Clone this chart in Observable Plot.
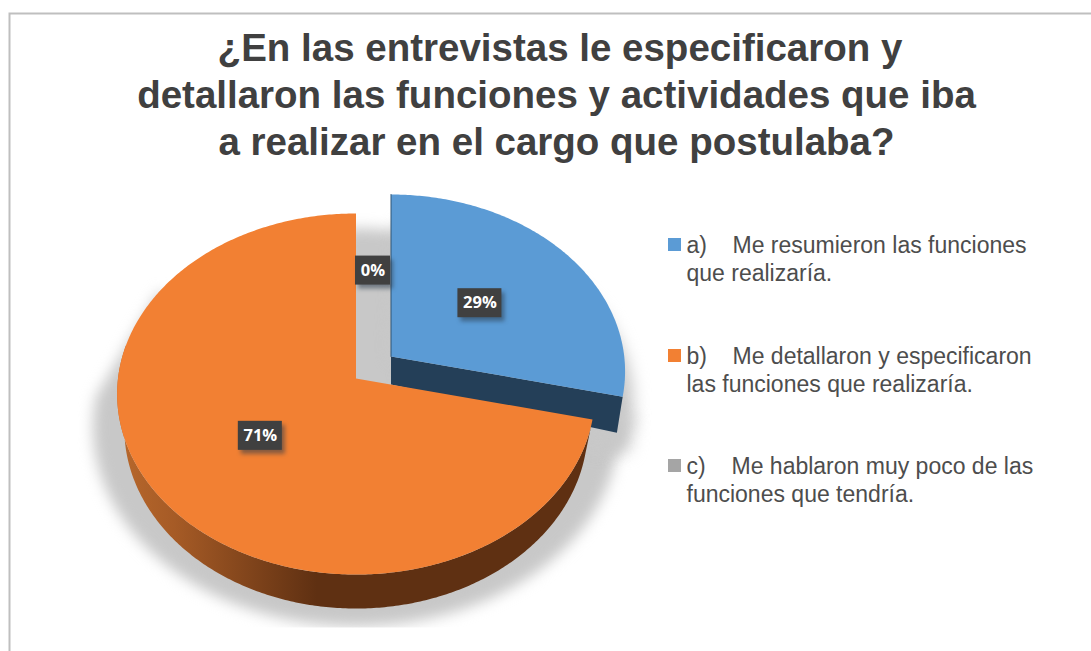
<!DOCTYPE html>
<html><head><meta charset="utf-8">
<script src="https://cdn.jsdelivr.net/npm/d3@7"></script>
<script src="https://cdn.jsdelivr.net/npm/@observablehq/plot@0.6"></script>
<style>html,body{margin:0;padding:0;background:#fff;overflow:hidden}svg{display:block}</style>
</head><body><div id="chart"></div>
<script>
// --- data ---
const titleLines = ["¿En las entrevistas le especificaron y","detallaron las funciones y actividades que iba","a realizar en el cargo que postulaba?"];
const categories = ["a)","b)","c)"];
const values = [28.6,71.4,0];
const percentLabels = ["29%","71%","0%"];
const legendFirst = ["Me resumieron las funciones","Me detallaron y especificaron","Me hablaron muy poco de las"];
const legendSecond = ["que realizaría.","las funciones que realizaría.","funciones que tendría."];
const topColors = ["#5b9bd5","#f28033","#a5a5a5"];

// --- layout ---
const W=1091,H=651, cx=355.5, cy=378, B=238, A=179.2, k=0.0859;
const X=px=>(px-cx)/B, Y=py=>(py-cy)/A;
const explode=[[35,-22],[0,0],[17,-22]];
const radius=[0.98,1,1];
const arcs=d3.pie().sort(null)(values);
const proj=(t,r,ox=0,oy=0)=>{const u=r*Math.sin(t),v=-r*Math.cos(t),w=1-k*v;return {x:u/w+ox/B,y:v/w+oy/A,u,v};};
const arcPts=(t0,t1,r,ox,oy)=>{const n=Math.max(2,Math.ceil(Math.abs(t1-t0)*90));return d3.range(n+1).map(i=>proj(t0+(t1-t0)*i/n,r,ox,oy));};
const wedge=(i)=>{const a=arcs[i],[ox,oy]=explode[i];return [proj(0,0,ox,oy),...arcPts(a.startAngle,a.endAngle,radius[i],ox,oy)];};
const [bx,by]=explode[0];
const blueEnd=proj(arcs[0].endAngle,radius[0],bx,by);
const blueApex=proj(0,0,bx,by);
const blueWall=[blueApex,blueEnd,
  {x:blueApex.x+(blueEnd.x-blueApex.x)*0.975,y:blueEnd.y+36/A},
  {x:blueApex.x,y:blueApex.y+28/A}];
const oStart=arcs[1].startAngle;
const rimTop=arcPts(oStart,Math.PI*1.56,1,0,0);
const rimBot=rimTop.map(p=>({x:p.x*0.97,y:p.y+34/A})).reverse();
const orangeRim=[...rimTop,...rimBot];
const origin=proj(0,0,0,0);
const shadowMain=[proj(0,0,0,40),...arcPts(oStart-0.4,Math.PI*1.52,1.1,0,30),proj(Math.PI*1.67,1,0,0)];
const shadowGap=[proj(0,0,-30,70),...arcPts(-0.05,oStart,1.1,0,30)];
const shadowBlue=[blueApex,...arcPts(arcs[0].startAngle,arcs[0].endAngle,radius[0],bx+8,by+30)];
const shadowWall=blueWall.map(p=>({x:p.x+12/B,y:p.y+20/A}));

const labelCentres=arcs.map((a,i)=>proj((a.startAngle+a.endAngle)/2,0.5*radius[i],explode[i][0],explode[i][1]));
const labelRows=percentLabels.map((t,i)=>({t,...labelCentres[i],w:i===2?17.5:22,h:14.5}));
const legendTop=[245,356,466], legendX=[686,686,686], legendBody=[732,732,731], titleX=[559.5,556,556];
const sans="'Liberation Sans',Arial,sans-serif";

const defs=()=>{
  const s=d3.create("svg:defs");
  const g=s.append("linearGradient").attr("id","rimGrad").attr("x1","0").attr("x2","1").attr("y1","0").attr("y2","0");
  [[0,"#b8682c"],[0.12,"#a65b26"],[0.42,"#5f3012"],[1,"#5f3012"]].forEach(([o,c])=>g.append("stop").attr("offset",o).attr("stop-color",c));
  return s.node();
};
const shape=(pts,opts)=>Plot.line(pts,{x:"x",y:"y",stroke:"none",...opts});

const plot=Plot.plot({
  width:W,height:H,margin:0,
  x:{domain:[X(0),X(W)],range:[0,W],axis:null},
  y:{domain:[Y(0),Y(H)],range:[0,H],axis:null},
  style:{background:"#fff",overflow:"visible"},
  marks:[
    defs,
    Plot.rect([{a:X(9.5),b:X(W+20),c:Y(13.5),d:Y(H+20)}],{x1:"a",x2:"b",y1:"c",y2:"d",fill:"none",stroke:"#bfbfbf",strokeWidth:2}),
    shape(shadowMain,{fill:"#c8c8c8",imageFilter:"blur(7px)"}),
    shape(shadowGap,{fill:"#c8c8c8",imageFilter:"blur(7px)"}),
    shape(shadowBlue,{fill:"#c8c8c8",imageFilter:"blur(8px)"}),
    shape(shadowWall,{fill:"#c8c8c8",imageFilter:"blur(8px)"}),
    Plot.rect([{a:X(60),b:X(700),c:Y(627.5),d:Y(645)}],{x1:"a",x2:"b",y1:"c",y2:"d",fill:"#fff"}),
    shape(blueWall,{fill:"#243f58"}),
    shape(orangeRim,{fill:"url(#rimGrad)"}),
    shape(wedge(0),{fill:topColors[0]}),
    shape([proj(0,radius[0],bx,by),blueApex],{stroke:"#2f5475",strokeWidth:1}),
    shape(wedge(1),{fill:topColors[1]}),
    Plot.rect(labelRows,{x1:d=>d.x-d.w/B,x2:d=>d.x+d.w/B,y1:d=>d.y-d.h/A,y2:d=>d.y+d.h/A,fill:"#2a3a4a",fillOpacity:0.55,dx:3,dy:4,imageFilter:"blur(2px)"}),
    Plot.rect(labelRows,{x1:d=>d.x-d.w/B,x2:d=>d.x+d.w/B,y1:d=>d.y-d.h/A,y2:d=>d.y+d.h/A,fill:"#404040"}),
    Plot.text(labelRows,{x:"x",y:"y",text:"t",fill:"#fff",fontSize:16.5,fontWeight:700,fontFamily:"'Open Sans',sans-serif"}),
    Plot.text(titleLines,{x:(d,i)=>X(titleX[i]),y:(d,i)=>Y(48+i*47),text:d=>d,fontSize:38.5,fontWeight:700,fill:"#404040",fontFamily:sans}),
    Plot.rect(categories,{x1:()=>X(668),x2:()=>X(681),y1:(d,i)=>Y(legendTop[i]-7),y2:(d,i)=>Y(legendTop[i]+6),fill:(d,i)=>topColors[i]}),
    Plot.text(categories,{x:(d,i)=>X(legendX[i]),y:(d,i)=>Y(legendTop[i]),text:d=>d,textAnchor:"start",fontSize:23,fill:"#4d4d4d",fontFamily:sans}),
    Plot.text(legendFirst,{x:(d,i)=>X(legendBody[i]),y:(d,i)=>Y(legendTop[i]),text:d=>d,textAnchor:"start",fontSize:23,fill:"#4d4d4d",fontFamily:sans}),
    Plot.text(legendSecond,{x:(d,i)=>X(legendX[i]),y:(d,i)=>Y(legendTop[i]+28.5),text:d=>d,textAnchor:"start",fontSize:23,fill:"#4d4d4d",fontFamily:sans})
  ]
});
document.getElementById("chart").append(plot);
</script></body></html>
